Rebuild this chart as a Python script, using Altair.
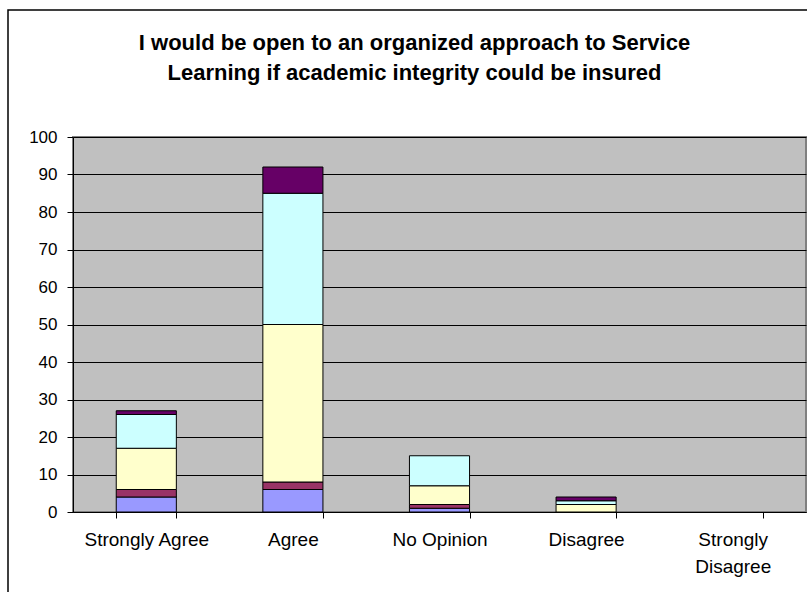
import altair as alt
import pandas as pd

categories = ["Strongly Agree", "Agree", "No Opinion", "Disagree", "Strongly Disagree"]
series_names = ["Series 1", "Series 2", "Series 3", "Series 4", "Series 5"]
s1 = [4, 6, 1, 0, 0]
s2 = [2, 2, 1, 0, 0]
s3 = [11, 42, 5, 2, 0]
s4 = [9, 35, 8, 1, 0]
s5 = [1, 7, 0, 1, 0]
colors = ["#9999FF", "#993366", "#FFFFCC", "#CCFFFF", "#660066"]
title_lines = ["I would be open to an organized approach to Service",
               "Learning if academic integrity could be insured"]

rows = []
for si, (name, vals) in enumerate(zip(series_names, [s1, s2, s3, s4, s5])):
    for c, v in zip(categories, vals):
        rows.append({"category": c, "series": name, "order": si, "value": v})
df = pd.DataFrame(rows)

FONT = "Liberation Sans"

bars = alt.Chart(df).transform_filter("datum.value > 0").mark_bar(stroke="black", strokeWidth=1).encode(
    x=alt.X("category:N", sort=categories,
            scale=alt.Scale(domain=categories, paddingInner=0.59, paddingOuter=0.295),
            axis=alt.Axis(title=None, labelAngle=0, tickBand="extent",
                          tickSize=6, tickColor="black", domainColor="black",
                          labelFont=FONT, labelFontSize=19, labelColor="black",
                          labelPadding=12, labelLineHeight=27,
                          labelExpr="datum.label == 'Strongly Disagree' ? ['Strongly', 'Disagree'] : datum.label")),
    y=alt.Y("value:Q", stack="zero",
            scale=alt.Scale(domain=[0, 100], nice=False),
            axis=alt.Axis(title=None, values=list(range(0, 101, 10)),
                          tickSize=6, tickColor="black", domainColor="black",
                          gridColor="black", gridOpacity=1, gridWidth=1,
                          labelFont=FONT, labelFontSize=17, labelColor="black",
                          labelPadding=10)),
    color=alt.Color("series:N", scale=alt.Scale(domain=series_names, range=colors), legend=None),
    order=alt.Order("order:Q", sort="ascending"),
)

frame_df = pd.DataFrame({"f": [0]})
frame = alt.Chart(frame_df).mark_rect(fill=None, stroke="black", strokeWidth=1.5, clip=False).encode(
    x=alt.value(-65), x2=alt.value(900), y=alt.value(-127), y2=alt.value(700)
)

chart = alt.layer(bars, frame).properties(
    width=733, height=375,
    autosize=alt.AutoSizeParams(type="none"),
    padding={"left": 73, "top": 137, "right": 1, "bottom": 80},
    background="white",
    title=alt.TitleParams(title_lines, anchor="middle", dx=-25, offset=-76,
                          font=FONT, fontSize=22, fontWeight="bold",
                          color="black", lineHeight=30),
).configure_view(fill="#C0C0C0", stroke="#808080", strokeWidth=2)

chart.save("out.html", embed_options={"renderer": "svg", "actions": False})
